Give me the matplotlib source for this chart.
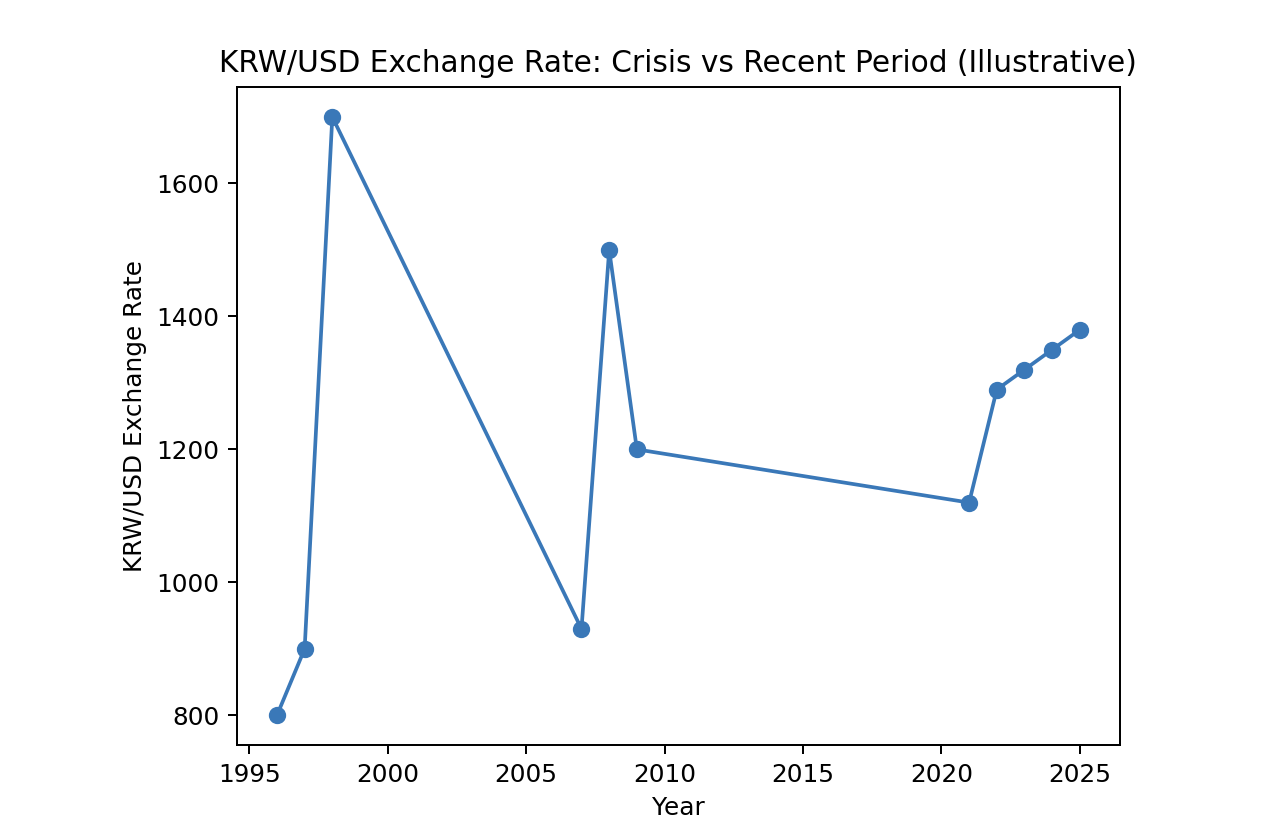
import matplotlib
matplotlib.use('Agg')
import matplotlib.pyplot as plt

# Illustrative KRW/USD rates
years = [1996, 1997, 1998, 2007, 2008, 2009, 2021, 2022, 2023, 2024, 2025]
rates = [800, 900, 1700, 930, 1500, 1200, 1120, 1290, 1320, 1350, 1380]

DPI = 178
fig, ax = plt.subplots(figsize=(1280 / DPI, 829 / DPI), dpi=DPI)
fig.subplots_adjust(left=0.185, right=0.875, top=0.895, bottom=0.101)

ax.plot(years, rates, marker='o', color='#3a78b8')
ax.set_title('KRW/USD Exchange Rate: Crisis vs Recent Period (Illustrative)')
ax.set_xlabel('Year')
ax.set_ylabel('KRW/USD Exchange Rate')

fig.savefig('out.png', dpi=DPI)
